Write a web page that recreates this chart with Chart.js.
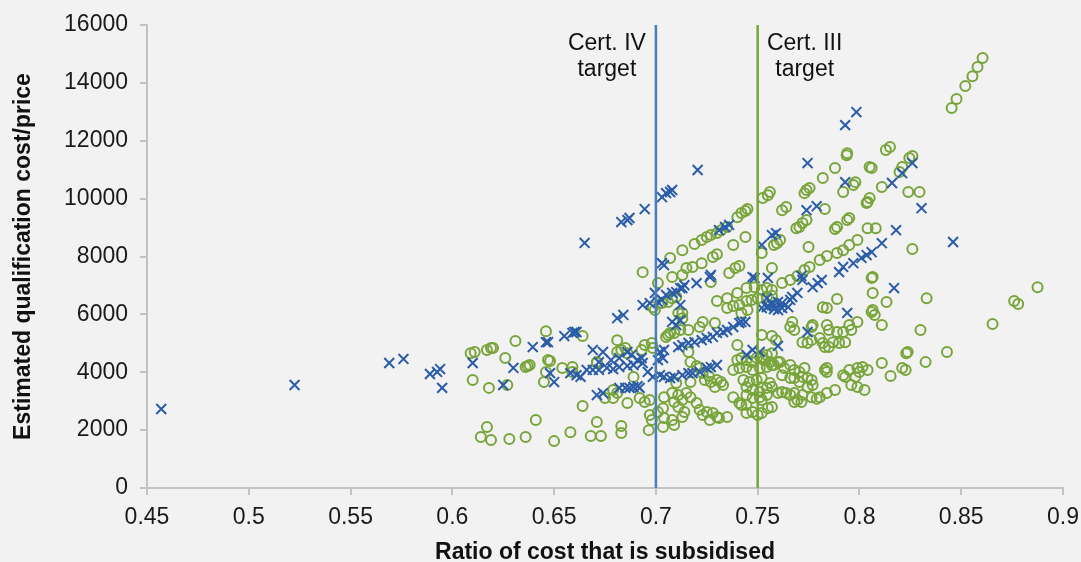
<!DOCTYPE html>
<html>
<head>
<meta charset="utf-8">
<script src="https://cdn.jsdelivr.net/npm/chart.js@4.4.1/dist/chart.umd.min.js"></script>
<style>
html,body{margin:0;padding:0;background:#f2f2f2;}
#wrap{width:1081px;height:562px;position:relative;}
</style>
</head>
<body>
<div id="wrap"><canvas id="c" width="1081" height="562"></canvas></div>
<script>
// ---- data ----
const xTicks = [0.45,0.5,0.55,0.6,0.65,0.7,0.75,0.8,0.85,0.9];
const yTicks = [0,2000,4000,6000,8000,10000,12000,14000,16000];
const certIVTarget = 0.7;
const certIIITarget = 0.75;
const targetLabels = [["Cert. IV","target"],["Cert. III","target"]];

// blue crosses: [ratio subsidised, estimated cost]
const certIVPoints = [
[0.457,2730],[0.5225,3560],[0.569,4320],[0.576,4460],[0.589,3940],[0.5925,4010],[0.594,4110],[0.595,3460],
[0.610,4320],[0.625,3560],[0.630,4150],[0.6395,4870],[0.646,5040],[0.647,5040],[0.648,3970],[0.650,3660],
[0.655,5250],[0.659,5360],[0.660,5390],[0.661,5390],[0.658,3970],[0.661,3900],[0.663,3840],[0.665,8470],
[0.666,4080],[0.669,4080],[0.669,4770],[0.671,3210],[0.674,3280],
[0.672,4080],[0.676,4150],[0.679,4110],[0.682,4180],[0.686,4220],[0.689,4250],
[0.674,4700],[0.672,4350],[0.678,4420],[0.682,4490],[0.686,4700],[0.688,4600],[0.691,4420],[0.693,4490],[0.6935,4320],
[0.682,3460],[0.685,3460],[0.687,3460],[0.689,3490],[0.691,3520],[0.692,3460],
[0.681,5870],[0.684,5980],
[0.6935,6320],[0.697,6390],[0.701,6430],[0.703,6500],[0.705,6670],[0.708,6740],[0.710,6770],[0.712,6910],[0.714,7010],[0.713,6910],[0.720,7080],[0.6995,6740],
[0.702,4700],[0.704,4770],[0.701,4420],[0.7035,4490],
[0.696,4010],[0.6985,3840],[0.702,3900],[0.704,3840],[0.707,3800],[0.709,3840],[0.713,3900],[0.716,3970],[0.718,3970],[0.7215,4010],[0.725,4150],[0.727,4180],[0.730,4250],
[0.708,5740],[0.712,5800],[0.710,5630],[0.712,6320],
[0.711,4870],[0.713,4940],[0.716,5010],[0.719,5040],[0.7225,5110],[0.725,5180],[0.728,5220],[0.730,5360],[0.733,5390],[0.735,5460],[0.738,5560],[0.741,5700],[0.744,5740],
[0.683,9190],[0.686,9260],[0.687,9330],[0.6945,9640],[0.703,10050],[0.705,10190],[0.707,10230],[0.708,10300],[0.7205,10990],
[0.703,7770],[0.704,7700],[0.727,7360],[0.7265,7290],
[0.731,8910],[0.734,9020],[0.736,9090],
[0.7485,7260],[0.755,7260],[0.7475,7290],
[0.752,8400],[0.757,8740],[0.759,8810],
[0.7545,6250],[0.757,6320],[0.760,6150],[0.752,6220],[0.755,6290],[0.758,6180],[0.762,6220],[0.765,6250],
[0.7545,6560],[0.757,6390],[0.760,6430],[0.762,6390],[0.766,6500],[0.767,6600],[0.7695,6740],[0.772,7190],[0.777,6940],[0.7795,7080],[0.7815,7190],
[0.742,5740],[0.794,6050],[0.7745,5390],[0.760,4910],[0.7445,4600],[0.7475,4770],[0.751,4700],[0.7715,7330],
[0.7745,11230],[0.793,10570],[0.793,12540],[0.7985,12990],[0.774,9600],[0.779,9740],
[0.826,11230],[0.821,10880],[0.816,10540],[0.8305,9670],[0.818,8910],[0.811,8460],
[0.806,8150],[0.8035,8050],[0.801,7950],[0.797,7770],[0.792,7640],[0.790,7460],
[0.846,8500],[0.817,6910]
];

// green circles: [ratio subsidised, estimated cost]
const certIIIPoints = [
[0.609,4660],[0.611,4700],[0.610,3730],[0.617,4770],[0.619,4840],[0.620,4840],[0.618,3460],[0.626,4490],
[0.631,5080],[0.636,4180],[0.637,4220],[0.638,4250],[0.627,3560],[0.646,5420],[0.647,4420],[0.648,4390],
[0.646,4010],[0.645,3660],[0.654,4150],[0.659,4180],[0.659,4010],[0.664,5250],[0.671,4350],[0.671,4320],
[0.675,3110],[0.664,2830],[0.681,5110],[0.681,4700],[0.683,4770],[0.685,4840],[0.686,4660],[0.689,3840],
[0.686,2940],[0.705,5220],[0.706,5290],
[0.617,2110],[0.614,1760],[0.619,1660],[0.628,1690],[0.636,1760],[0.641,2350],[0.650,1620],[0.658,1930],
[0.668,1800],[0.673,1800],[0.671,2280],[0.683,2140],[0.683,1900],[0.6965,2000],[0.7035,2110],
[0.6935,7460],[0.707,7950],
[0.713,8220],[0.719,8430],[0.7225,8570],[0.725,8670],[0.727,8740],[0.730,8810],[0.732,8910],[0.735,9020],
[0.740,9360],[0.742,9500],[0.744,9570],[0.745,9640],
[0.744,8670],[0.738,8400],[0.728,7980],[0.730,8080],
[0.718,7640],[0.715,7600],[0.7225,7770],[0.708,7290],[0.713,7360],
[0.736,7430],[0.739,7600],[0.741,7670],[0.727,7120],[0.752,8120],[0.757,7600],[0.701,7080],[0.757,6840],
[0.6985,6250],[0.6995,6150],[0.703,6390],[0.706,6430],[0.708,6560],[0.710,6600],
[0.730,6460],[0.735,6560],[0.740,6740],[0.7445,6910],[0.7485,6940],[0.752,6840],[0.7545,6910],
[0.735,6220],[0.738,6290],[0.741,6320],[0.7445,6460],[0.747,6500],[0.750,6560],[0.7545,6600],[0.757,6640],
[0.711,6050],[0.713,6050],[0.713,5870],[0.723,5740],[0.729,5700],[0.7215,5560],
[0.707,5360],[0.709,5360],[0.712,5460],[0.716,5460],[0.740,4940],[0.716,4700],
[0.6945,4940],[0.693,4770],[0.698,5010],[0.6985,4840],
[0.717,4350],[0.720,4220],[0.7215,4150],[0.723,3970],[0.726,3870],[0.724,3730],[0.727,3660],[0.729,3490],[0.733,3560],[0.732,3660],[0.730,3730],
[0.740,4420],[0.742,4490],[0.7445,4420],[0.747,4350],[0.7495,4490],[0.752,4530],[0.7545,4600],[0.757,4660],
[0.738,4080],[0.741,4150],[0.7445,4180],[0.7475,4080],[0.751,4150],[0.7545,4180],[0.757,4250],[0.760,4350],
[0.743,3730],[0.746,3660],[0.7495,3730],[0.752,3800],[0.756,3630],[0.7445,3490],[0.7475,3390],[0.751,3320],[0.7545,3460],[0.757,3490],[0.7445,3210],[0.7475,3110],[0.751,3140],[0.7545,3210],
[0.757,5250],[0.679,3390],[0.681,3280],
[0.692,3110],[0.6945,2970],[0.697,3040],[0.704,3140],[0.708,3280],[0.711,3210],[0.715,3280],[0.713,3040],[0.717,3140],[0.709,2970],
[0.697,2520],[0.701,2630],[0.7035,2760],[0.698,2350],[0.704,2420],[0.708,2350],[0.713,2450],[0.714,2630],
[0.720,2940],[0.7215,2700],[0.725,2630],[0.728,2590],[0.730,2450],[0.7265,2350],[0.731,2420],[0.735,2450],[0.723,2520],
[0.679,3110],[0.710,3630],[0.717,3660],[0.709,2180],[0.711,2800],
[0.738,3140],[0.741,2940],[0.7445,2870],
[0.7445,2590],[0.7475,2630],[0.750,2520],[0.752,2590],[0.755,2760],[0.757,2800],
[0.794,11570],[0.7937,11500],[0.788,11060],[0.805,11090],[0.806,11060],[0.782,10710],[0.798,10570],[0.797,10470],[0.792,10230],
[0.811,10400],[0.824,10230],[0.756,10230],[0.755,10120],[0.7525,10020],
[0.7755,10370],[0.774,10300],[0.773,10190],[0.764,9710],[0.762,9600],[0.783,9640],
[0.805,10020],[0.804,9880],[0.8035,9850],[0.795,9330],[0.794,9260],[0.789,9020],[0.788,8950],
[0.774,9260],[0.772,9160],[0.7705,9020],[0.769,8980],[0.761,8570],[0.7595,8460],[0.758,8400],
[0.775,8330],[0.804,8980],[0.808,8980],
[0.799,8570],[0.795,8400],[0.792,8220],[0.789,8120],[0.784,8020],[0.7805,7880],[0.7755,7640],[0.773,7530],[0.7695,7330],
[0.826,8260],[0.8065,7290],
[0.762,7080],[0.766,7190],[0.742,6050],[0.745,6150],[0.789,6530],[0.782,6250],[0.784,6220],
[0.806,7260],[0.8065,6740],[0.8065,6150],[0.806,6080],[0.8075,5980],
[0.799,5740],[0.795,5630],[0.796,5460],[0.792,5390],[0.767,5740],[0.766,5560],[0.768,5460],
[0.7765,5560],[0.777,5630],[0.784,5630],[0.785,5460],[0.789,5390],[0.752,5290],[0.759,5110],
[0.772,5040],[0.7745,5010],[0.7765,5110],[0.7805,5180],[0.782,5010],[0.783,4870],[0.785,4870],[0.787,5040],[0.790,5010],[0.793,5040],
[0.753,4420],[0.756,4350],[0.758,4250],[0.761,4350],[0.763,4150],[0.766,4250],[0.768,4080],[0.7705,4010],[0.773,4150],[0.762,3900],[0.766,3800],
[0.784,4150],[0.783,4080],[0.792,3900],[0.795,4080],[0.799,4150],[0.8015,4180],[0.804,4080],[0.798,3840],[0.821,4150],
[0.768,3800],[0.772,3840],[0.7705,3660],[0.7745,3800],[0.7765,3730],
[0.784,4010],[0.793,3840],[0.800,4010],[0.796,3560],[0.799,3490],[0.8025,3390],
[0.788,3390],[0.784,3280],[0.7805,3140],[0.779,3080],[0.7765,3140],[0.7745,3490],[0.777,3560],
[0.768,3280],[0.7695,3040],[0.7715,2970],[0.768,2970],[0.772,3210],
[0.762,3320],[0.764,3280],[0.766,3210],[0.760,3280],[0.742,2870],[0.752,3040],
[0.8605,14860],[0.858,14550],[0.8555,14230],[0.852,13890],[0.8477,13440],[0.8453,13130],
[0.815,11780],[0.813,11680],[0.826,11470],[0.8245,11400],[0.821,11090],[0.8197,10920],[0.8295,10230],
[0.8133,6430],[0.833,6560],[0.811,5630],[0.830,5460],[0.8654,5670],[0.876,6460],[0.878,6360],[0.8875,6940],
[0.8237,4700],[0.823,4660],[0.843,4700],[0.8325,4350],[0.811,4320],[0.8227,4080],[0.8153,3870]
];

// ---- styles ----
const BLUE = '#2a5ca8';
const BLUE_LINE = '#4a7ebb';
const GREEN = '#78a53a';
const AXIS = '#c3c3c3';
const FONT = '"Liberation Sans", Arial, sans-serif';

const toXY = arr => arr.map(p => ({x:p[0], y:p[1]}));

const targetPlugin = {
  id:'targetLabels',
  afterDatasetsDraw(chart){
    const {ctx, scales:{x, y}} = chart;
    const top = y.getPixelForValue(yTicks[yTicks.length-1]);
    ctx.save();
    ctx.font = '23px ' + FONT;
    ctx.fillStyle = '#111';
    ctx.textAlign = 'center';
    ctx.textBaseline = 'alphabetic';
    const xs = [x.getPixelForValue(certIVTarget) - 49, x.getPixelForValue(certIIITarget) + 47];
    targetLabels.forEach((lines, i) => {
      ctx.fillText(lines[0], xs[i], top + 25);
      ctx.fillText(lines[1], xs[i], top + 51);
    });
    ctx.restore();
  }
};

new Chart(document.getElementById('c'), {
  type:'scatter',
  data:{
    datasets:[
      {label:'Cert. IV target', data:[{x:certIVTarget,y:yTicks[0]},{x:certIVTarget,y:yTicks[yTicks.length-1]}],
       showLine:true, borderColor:BLUE_LINE, borderWidth:2.5, pointRadius:0, order:0},
      {label:'Cert. III target', data:[{x:certIIITarget,y:yTicks[0]},{x:certIIITarget,y:yTicks[yTicks.length-1]}],
       showLine:true, borderColor:GREEN, borderWidth:2.5, pointRadius:0, order:0},
      {label:'Cert. IV', data:toXY(certIVPoints), pointStyle:'crossRot', pointRadius:7, pointBorderWidth:2,
       borderColor:BLUE, backgroundColor:BLUE, order:1},
      {label:'Cert. III', data:toXY(certIIIPoints), pointStyle:'circle', pointRadius:5, pointBorderWidth:2,
       borderColor:GREEN, backgroundColor:'rgba(0,0,0,0)', order:2}
    ]
  },
  options:{
    responsive:false,
    animation:false,
    events:[],
    layout:{padding:{left:0, right:18, top:25, bottom:0}},
    plugins:{legend:{display:false}, tooltip:{enabled:false}},
    scales:{
      x:{
        type:'linear', min:xTicks[0], max:xTicks[xTicks.length-1],
        afterBuildTicks(scale){ scale.ticks = xTicks.map(v => ({value:v})); },
        afterFit(scale){ scale.height = 74; scale.paddingLeft = 0; scale.paddingRight = 0; },
        grid:{drawOnChartArea:false, color:AXIS, lineWidth:2, tickLength:7},
        border:{color:AXIS, width:2},
        ticks:{color:'#1a1a1a', font:{family:FONT, size:23}, padding:9, maxRotation:0,
               callback:v => String(+v.toFixed(2))},
        title:{display:true, text:'Ratio of cost that is subsidised', color:'#111',
               font:{family:FONT, size:23, weight:'bold'}, padding:{top:11, bottom:-4}}
      },
      y:{
        type:'linear', min:yTicks[0], max:yTicks[yTicks.length-1],
        afterBuildTicks(scale){ scale.ticks = yTicks.map(v => ({value:v})); },
        afterFit(scale){ scale.width = 147; scale.paddingTop = 0; scale.paddingBottom = 0; },
        grid:{drawOnChartArea:false, color:AXIS, lineWidth:2, tickLength:7},
        border:{color:AXIS, width:2},
        ticks:{color:'#1a1a1a', font:{family:FONT, size:23}, padding:12,
               callback:v => String(v)},
        title:{display:true, text:'Estimated qualification cost/price', color:'#111',
               font:{family:FONT, size:23, weight:'bold'}, padding:{top:10, bottom:0}}
      }
    }
  },
  plugins:[targetPlugin]
});
</script>
</body>
</html>
